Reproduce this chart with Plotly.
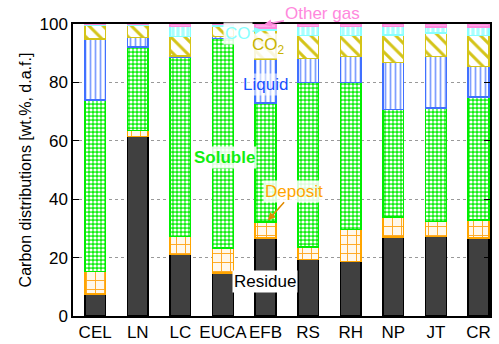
import plotly.graph_objects as go

categories = ["CEL", "LN", "LC", "EUCA", "EFB", "RS", "RH", "NP", "JT", "CR"]
residue = [7.6, 61.5, 21.0, 14.7, 26.7, 19.3, 18.7, 27.0, 27.3, 26.7]
deposit = [7.7, 2.0, 6.3, 8.6, 5.5, 4.3, 10.9, 6.9, 5.1, 6.1]
soluble = [58.7, 28.7, 61.3, 71.8, 40.7, 56.4, 50.4, 36.8, 38.8, 42.2]
liquid = [20.9, 3.2, 0.4, 0.7, 15.1, 8.2, 8.8, 16.1, 17.6, 10.5]
co2 = [4.8, 4.3, 6.8, 3.5, 9.9, 7.8, 7.3, 9.5, 8.2, 10.5]
co = [0.1, 0.2, 3.3, 0.7, 0.7, 3.1, 3.0, 2.8, 1.9, 3.0]
other_gas = [0.2, 0.1, 0.9, 0.5, 1.4, 0.9, 0.9, 0.9, 1.1, 1.0]

FONT = "Liberation Sans, Arial, sans-serif"

series = [
    ("Residue", residue, dict(shape="", bgcolor="#404040", fgcolor="#404040"), "#000000", "#404040"),
    ("Deposit", deposit, dict(shape="+", bgcolor="#fff8ec", fgcolor="#ffa820", size=9, solidity=0.2), "#ffa500", "#fff8ec"),
    ("Soluble", soluble, dict(shape=".", bgcolor="#11f011", fgcolor="#ffffff", size=4, solidity=0.5), "#00ee00", "#11f011"),
    ("Liquid", liquid, dict(shape="|", bgcolor="#ffffff", fgcolor="#7f9fff", size=5, solidity=0.35), "#4070ff", "#ffffff"),
    ("CO2", co2, dict(shape="\\", bgcolor="#ffffff", fgcolor="#d4c418", size=10, solidity=0.3), "#d4c418", "#ffffff"),
    ("CO", co, dict(shape="|", bgcolor="#a8ffff", fgcolor="#ffffff", size=5, solidity=0.35), "#88ffff", "#a8ffff"),
    ("Other gas", other_gas, dict(shape="", bgcolor="#ffa8e8", fgcolor="#ffa8e8"), "#ff88dd", "#ffa8e8"),
]

fig = go.Figure()
for name, vals, pat, line_col, fill in series:
    marker = dict(color=fill, line=dict(color=line_col, width=1.5))
    if pat["shape"]:
        marker["pattern"] = dict(fillmode="replace", **pat)
    fig.add_trace(go.Bar(x=categories, y=vals, name=name, width=0.486, marker=marker))

bg = "rgba(255,255,255,0.85)"
anns = [
    dict(text="<b>Soluble</b>", x=3.025, y=54.3, showarrow=False, font=dict(color="#11ee11", size=17), bgcolor=bg),
    dict(text="Liquid", x=4.01, y=79.3, showarrow=False, font=dict(color="#1a4fff", size=17), bgcolor="rgba(255,255,255,0.6)"),
    dict(text="CO<sub>2</sub>", x=4.06, y=92.6, showarrow=False, font=dict(color="#c8b400", size=17), bgcolor=bg),
    dict(text="Residue", x=3.99, y=11.9, showarrow=False, font=dict(color="#000000", size=17), bgcolor="#ffffff"),
    dict(text="CO", x=3.917, y=98.05, ax=-24, ay=4, showarrow=True, arrowhead=2, arrowsize=1, arrowwidth=1.5,
         arrowcolor="#88ffff", font=dict(color="#88ffff", size=17), bgcolor=bg),
    dict(text="Other gas", x=3.964, y=99.8, ax=59, ay=-11.5, showarrow=True, arrowhead=2, arrowsize=1, arrowwidth=1.5,
         arrowcolor="#ff88dd", font=dict(color="#ff88dd", size=17)),
    dict(text="Deposit", x=4.057, y=32.75, ax=26, ay=-29, showarrow=True, arrowhead=2, arrowsize=1, arrowwidth=1.5,
         arrowcolor="#e08a00", font=dict(color="#ffa500", size=17), bgcolor=bg),
]
for a in anns:
    a.update(xref="x", yref="y")

fig.update_layout(
    width=499, height=344,
    barmode="stack",
    showlegend=False,
    plot_bgcolor="#ffffff", paper_bgcolor="#ffffff",
    margin=dict(l=73, r=9, t=23.5, b=28),
    font=dict(family=FONT, size=17, color="#000000"),
    annotations=anns,
)
fig.update_xaxes(
    type="category", range=[-0.52, 9.27], automargin=False, tickangle=0,
    showline=True, linecolor="#000000", linewidth=1.5, mirror=True,
    ticks="", showgrid=False, tickfont=dict(size=17), ticklabelstandoff=0,
)
fig.update_yaxes(
    range=[0, 100], tickvals=[0, 20, 40, 60, 80, 100], automargin=False,
    showline=True, linecolor="#000000", linewidth=1.5, mirror="ticks",
    ticks="inside", ticklen=6, tickcolor="#000000",
    showgrid=True, gridcolor="#999999", griddash="dot", gridwidth=1,
    zeroline=False, tickfont=dict(size=17),
    title=dict(text="Carbon distributions [wt.%, d.a.f.]", font=dict(size=16), standoff=4),
)

fig.write_html(
    "out.html",
    config={"displayModeBar": False},
    post_script="document.body.style.margin='0px';document.body.style.overflow='hidden';",
)
